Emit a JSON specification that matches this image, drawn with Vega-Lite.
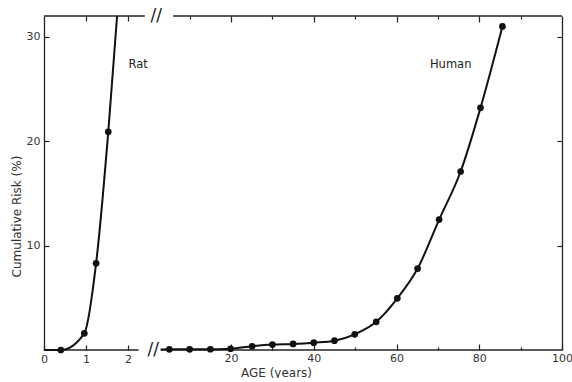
{
  "$schema": "https://vega.github.io/schema/vega-lite/v6.json",
  "padding": {"left": 10, "top": 7, "right": 5, "bottom": 0},
  "background": "white",
  "datasets": {
    "rat": [
      {"age": 0, "risk": 0, "observed": false},
      {"age": 0.4, "risk": 0, "observed": true},
      {"age": 0.96, "risk": 1.6, "observed": true},
      {"age": 1.24, "risk": 8.3, "observed": true},
      {"age": 1.53, "risk": 20.9, "observed": true},
      {"age": 1.74, "risk": 32, "observed": false}
    ],
    "human": [
      {"age": 3, "risk": 0.05, "observed": false},
      {"age": 5.1, "risk": 0.06, "observed": true},
      {"age": 10, "risk": 0.06, "observed": true},
      {"age": 15, "risk": 0.07, "observed": true},
      {"age": 19.9, "risk": 0.12, "observed": true},
      {"age": 25.1, "risk": 0.36, "observed": true},
      {"age": 30, "risk": 0.52, "observed": true},
      {"age": 35, "risk": 0.58, "observed": true},
      {"age": 40, "risk": 0.7, "observed": true},
      {"age": 45, "risk": 0.89, "observed": true},
      {"age": 49.9, "risk": 1.5, "observed": true},
      {"age": 55.1, "risk": 2.7, "observed": true},
      {"age": 60.2, "risk": 4.95, "observed": true},
      {"age": 65.1, "risk": 7.8, "observed": true},
      {"age": 70.3, "risk": 12.5, "observed": true},
      {"age": 75.5, "risk": 17.1, "observed": true},
      {"age": 80.3, "risk": 23.2, "observed": true},
      {"age": 85.6, "risk": 31.0, "observed": true}
    ],
    "ratFrame": [
      {"x1": 0, "x2": 2.25, "y": 0},
      {"x1": 0, "x2": 2.4, "y": 32}
    ],
    "humanFrame": [
      {"x1": 3, "x2": 100, "y": 0},
      {"x1": 6, "x2": 100, "y": 32}
    ],
    "ratText": [
      {"age": 2.24, "risk": 27.3, "label": "Rat", "kind": "name"},
      {"age": 2.6, "risk": 0, "label": "//", "kind": "break"},
      {"age": 2.67, "risk": 32, "label": "//", "kind": "break"}
    ],
    "humanText": [
      {"age": 73.1, "risk": 27.3, "label": "Human", "kind": "name"}
    ]
  },
  "config": {
    "view": {"stroke": null},
    "axis": {
      "grid": false,
      "labelFlush": false,
      "domainColor": "#222",
      "domainWidth": 1.3,
      "tickColor": "#222",
      "tickWidth": 1.2,
      "labelFont": "DejaVu Sans",
      "labelFontSize": 11,
      "labelColor": "#333",
      "titleFont": "DejaVu Sans",
      "titleFontSize": 12,
      "titleFontWeight": "normal",
      "titleColor": "#333"
    },
    "text": {"font": "DejaVu Sans", "fontSize": 11.5, "color": "#222"}
  },
  "hconcat": [
    {
      "width": 108,
      "height": 334,
      "layer": [
        {
          "data": {"name": "ratFrame"},
          "mark": {"type": "rule", "color": "#222", "strokeWidth": 1.3},
          "encoding": {
            "x": {
              "field": "x1", "type": "quantitative",
              "scale": {"domain": [0, 2.571], "nice": false, "zero": false},
              "axis": {
                "orient": "bottom", "values": [0, 1, 2], "domain": false,
                "tickSize": -5, "labelPadding": 8, "title": null
              }
            },
            "x2": {"field": "x2"},
            "y": {
              "field": "y", "type": "quantitative",
              "scale": {"domain": [0, 32], "nice": false},
              "axis": {
                "orient": "left", "values": [10, 20, 30], "tickSize": -5,
                "labelPadding": 9, "title": "Cumulative Risk (%)", "titlePadding": 3,
                "titleY": 200
              }
            }
          }
        },
        {
          "data": {"name": "rat"},
          "mark": {"type": "line", "interpolate": "monotone", "color": "#111", "strokeWidth": 2},
          "encoding": {
            "x": {
              "field": "age", "type": "quantitative",
              "scale": {"domain": [0, 2.571], "nice": false, "zero": false},
              "axis": {
                "orient": "top", "values": [1, 2], "domain": false,
                "tickSize": -5, "labels": false, "title": null
              }
            },
            "y": {"field": "risk", "type": "quantitative"}
          }
        },
        {
          "data": {"name": "rat"},
          "transform": [{"filter": "datum.observed"}],
          "mark": {"type": "circle", "color": "#111", "opacity": 1, "size": 45},
          "encoding": {
            "x": {"field": "age", "type": "quantitative", "axis": null},
            "y": {"field": "risk", "type": "quantitative"}
          }
        },
        {
          "data": {"name": "ratText"},
          "mark": {"type": "text", "baseline": "middle", "align": "center"},
          "encoding": {
            "x": {"field": "age", "type": "quantitative", "axis": null},
            "y": {"field": "risk", "type": "quantitative"},
            "text": {"field": "label"},
            "size": {"condition": {"test": "datum.kind === 'break'", "value": 17}, "value": 11.5},
            "fontWeight": {"condition": {"test": "datum.kind === 'break'", "value": "bold"}, "value": "normal"}
          }
        }
      ],
      "resolve": {"axis": {"x": "independent"}}
    },
    {
      "width": 410,
      "height": 334,
      "layer": [
        {
          "data": {"name": "humanFrame"},
          "mark": {"type": "rule", "color": "#222", "strokeWidth": 1.3},
          "encoding": {
            "x": {
              "field": "x1", "type": "quantitative",
              "scale": {"domain": [0.9, 100], "nice": false, "zero": false},
              "axis": {
                "orient": "bottom", "values": [10, 20, 30, 40, 50, 60, 70, 80, 90, 100],
                "domain": false,
                "tickSize": {"condition": {"test": "datum.value % 20 === 0", "value": -6}, "value": -3},
                "labelExpr": "datum.value % 20 === 0 ? datum.label : ''",
                "labelPadding": 8, "title": "AGE (years)", "titleX": 124, "titleAlign": "center",
                "titleAnchor": null, "titlePadding": 4
              }
            },
            "x2": {"field": "x2"},
            "y": {
              "field": "y", "type": "quantitative",
              "scale": {"domain": [0, 32], "nice": false},
              "axis": {
                "orient": "right", "values": [10, 20, 30], "tickSize": -5,
                "labels": false, "title": null
              }
            }
          }
        },
        {
          "data": {"name": "human"},
          "mark": {"type": "line", "interpolate": "monotone", "color": "#111", "strokeWidth": 2},
          "encoding": {
            "x": {
              "field": "age", "type": "quantitative",
              "scale": {"domain": [0.9, 100], "nice": false, "zero": false},
              "axis": {
                "orient": "top", "values": [10, 20, 30, 40, 50, 60, 70, 80, 90],
                "domain": false,
                "tickSize": {"condition": {"test": "datum.value % 20 === 0", "value": -6}, "value": -3},
                "labels": false, "title": null
              }
            },
            "y": {"field": "risk", "type": "quantitative"}
          }
        },
        {
          "data": {"name": "human"},
          "transform": [{"filter": "datum.observed"}],
          "mark": {"type": "circle", "color": "#111", "opacity": 1, "size": 45},
          "encoding": {
            "x": {"field": "age", "type": "quantitative", "axis": null},
            "y": {"field": "risk", "type": "quantitative"}
          }
        },
        {
          "data": {"name": "humanText"},
          "mark": {"type": "text", "baseline": "middle", "align": "center", "fontSize": 11.5},
          "encoding": {
            "x": {"field": "age", "type": "quantitative", "axis": null},
            "y": {"field": "risk", "type": "quantitative"},
            "text": {"field": "label"}
          }
        }
      ],
      "resolve": {"axis": {"x": "independent"}}
    }
  ],
  "spacing": 0,
  "bounds": "flush"
}
